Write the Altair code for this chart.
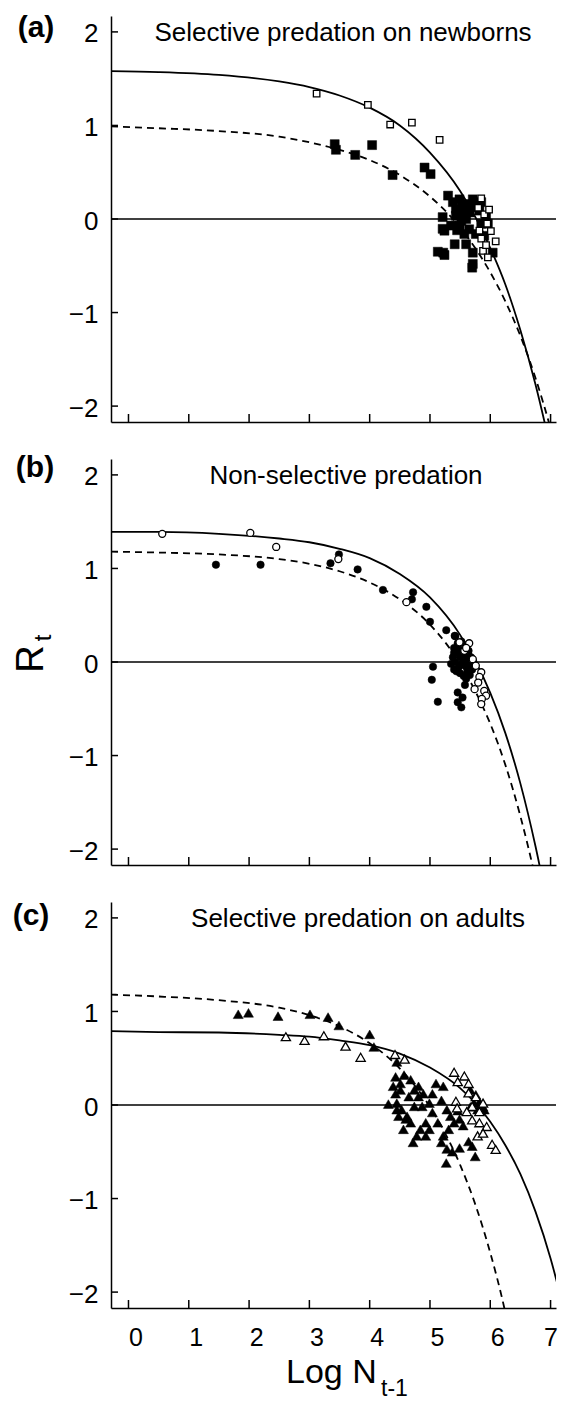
import altair as alt
import pandas as pd

# ---------------- data ----------------
PANEL_TITLES = ["Selective predation on newborns", "Non-selective predation", "Selective predation on adults"]
PANEL_LABELS = ["(a)", "(b)", "(c)"]
X_TICKS = [0, 1, 2, 3, 4, 5, 6, 7]
Y_TICKS = [-2, -1, 0, 1, 2]
Y_TITLE = ["R", "t"]
X_TITLE = ["Log N", "t-1"]

# fitted curves
A_SOLID_X = [-0.29, 0.5, 1.5, 2.5, 3.0, 3.5, 4.0, 4.5, 5.0, 5.5, 5.77, 6.0, 6.25, 6.5, 6.75, 7.0]
A_SOLID_Y = [1.58, 1.57, 1.54, 1.47, 1.41, 1.32, 1.19, 1.0, 0.71, 0.30, 0.0, -0.31, -0.70, -1.19, -1.77, -2.45]
A_DASH_X = [-0.29, 0.5, 1.5, 2.5, 3.0, 3.5, 4.0, 4.5, 5.0, 5.38, 5.75, 6.0, 6.25, 6.5, 6.75, 7.0, 7.2]
A_DASH_Y = [0.99, 0.97, 0.94, 0.88, 0.82, 0.74, 0.63, 0.47, 0.24, 0.0, -0.31, -0.57, -0.88, -1.25, -1.70, -2.24, -2.75]

B_SOLID_X = [-0.29, 0.5, 1.5, 2.5, 3.0, 3.5, 4.0, 4.5, 5.0, 5.5, 5.76, 6.0, 6.25, 6.5, 6.75, 6.95]
B_SOLID_Y = [1.39, 1.39, 1.37, 1.32, 1.28, 1.21, 1.11, 0.94, 0.69, 0.29, 0.0, -0.33, -0.76, -1.30, -1.97, -2.6]
B_DASH_X = [-0.29, 0.5, 1.5, 2.5, 3.0, 3.5, 4.0, 4.5, 5.0, 5.48, 5.75, 6.0, 6.25, 6.5, 6.75, 6.9]
B_DASH_Y = [1.18, 1.17, 1.15, 1.10, 1.05, 0.97, 0.85, 0.67, 0.40, 0.0, -0.31, -0.66, -1.10, -1.65, -2.32, -2.8]

C_SOLID_X = [-0.29, 0.5, 1.5, 2.5, 3.0, 3.5, 4.0, 4.5, 5.0, 5.5, 5.78, 6.0, 6.25, 6.5, 6.75, 7.0, 7.25]
C_SOLID_Y = [0.79, 0.78, 0.775, 0.75, 0.73, 0.69, 0.64, 0.55, 0.40, 0.18, 0.0, -0.18, -0.43, -0.74, -1.14, -1.64, -2.27]
C_DASH_X = [-0.29, 0.5, 1.5, 2.5, 3.0, 3.5, 4.0, 4.5, 4.98, 5.25, 5.5, 5.75, 6.0, 6.25, 6.4]
C_DASH_Y = [1.18, 1.16, 1.12, 1.04, 0.96, 0.84, 0.66, 0.39, 0.0, -0.30, -0.64, -1.06, -1.58, -2.22, -2.7]

# panel (a): open and filled squares
A_OPEN_X = [3.12, 3.97, 4.34, 4.70, 5.16, 5.85, 5.82, 6.01, 5.85, 6.09, 5.88, 5.96, 5.90, 5.95, 5.98, 5.80, 5.93]
A_OPEN_Y = [1.34, 1.22, 1.01, 1.03, 0.845, 0.22, -0.125, -0.13, -0.21, -0.24, -0.34, -0.41, 0.05, -0.05, 0.10, 0.12, -0.28]
A_FILL_X = [3.42, 3.44, 3.76, 4.04, 4.38, 4.91, 5.01, 5.30, 5.21, 5.24, 5.13, 5.24, 5.41, 5.60, 5.71, 5.71, 6.04,
            5.43, 5.54, 5.71, 5.60, 5.49, 5.82, 5.93, 5.96, 5.85, 5.65, 5.35, 5.43, 5.54, 5.76, 5.63, 5.85, 5.49,
            5.21, 5.57, 5.76, 5.90, 5.70, 5.38, 5.66, 5.52, 5.45, 5.22]
A_FILL_Y = [0.80, 0.74, 0.685, 0.79, 0.47, 0.55, 0.48, 0.25, 0.02, -0.125, -0.35, -0.385, -0.27, -0.27, -0.36, -0.48, -0.36,
            0.11, 0.14, 0.21, 0.0, -0.07, 0.09, 0.035, -0.05, -0.05, -0.11, -0.07, 0.035, 0.05, 0.125, 0.16, 0.18, 0.21,
            -0.105, -0.16, -0.16, -0.18, -0.52, 0.18, 0.07, -0.02, -0.12, -0.36]

# panel (b): open and filled circles
B_OPEN_X = [0.56, 2.02, 2.45, 3.48, 4.61, 5.65, 5.49, 5.85, 5.82, 5.74, 5.90, 5.93, 5.86, 5.85, 5.57, 5.71, 5.76, 5.60, 5.80]
B_OPEN_Y = [1.37, 1.38, 1.23, 1.10, 0.64, 0.20, 0.21, -0.11, -0.16, -0.29, -0.31, -0.36, -0.395, -0.45, 0.12, 0.03, -0.04, 0.15, -0.22]
B_FILL_X = [1.45, 2.19, 3.35, 3.49, 3.80, 4.22, 4.72, 4.70, 4.94, 5.00, 5.27, 5.42, 5.05, 5.03, 5.13, 5.46, 5.54, 5.46, 5.52,
            5.41, 5.58,
            5.40, 5.45, 5.50, 5.55, 5.60, 5.42, 5.48, 5.52, 5.58, 5.62, 5.66, 5.70, 5.38, 5.44, 5.50, 5.56, 5.62, 5.68,
            5.46, 5.52, 5.58, 5.35, 5.40, 5.64, 5.72, 5.54, 5.47, 5.60, 5.66, 5.40]
B_FILL_Y = [1.04, 1.04, 1.055, 1.15, 0.99, 0.77, 0.745, 0.67, 0.59, 0.43, 0.34, 0.275, -0.05, -0.19, -0.425, -0.325, -0.38, -0.43, -0.485,
            0.28, -0.245,
            0.15, 0.10, 0.05, 0.0, -0.05, 0.0, -0.05, 0.12, 0.08, 0.02, -0.02, -0.08, 0.05, -0.10, -0.12, -0.15, -0.10, 0.05,
            0.20, 0.22, 0.18, -0.02, -0.08, 0.12, 0.0, -0.02, 0.14, -0.18, -0.14, 0.10]

# panel (c): open and filled triangles
C_OPEN_X = [2.61, 2.92, 3.24, 3.60, 3.85, 4.42, 4.58, 5.40, 5.57, 5.46, 5.64, 5.43, 5.45, 5.70, 5.82, 5.94, 5.79, 5.88,
            6.03, 6.09, 5.64, 5.76, 5.88, 5.70, 5.61, 5.82]
C_OPEN_Y = [0.73, 0.69, 0.74, 0.63, 0.51, 0.54, 0.49, 0.35, 0.31, 0.25, 0.23, 0.04, -0.03, -0.16, -0.19, -0.23, -0.33, -0.30,
            -0.42, -0.475, 0.13, 0.09, 0.02, -0.015, -0.07, -0.07]
C_FILL_X = [1.82, 1.99, 2.48, 3.01, 3.31, 3.49, 4.00, 4.07, 4.45,
            5.67, 5.76, 5.82, 5.88, 5.79, 5.67, 5.73, 5.90, 5.64, 5.70, 5.75,
            4.31, 4.43, 4.57, 4.51, 4.43, 4.45, 4.53, 4.48, 4.60, 4.68, 4.72, 4.81, 4.81, 4.87, 4.93, 4.99, 4.93,
            4.65, 4.74, 5.10, 5.22, 5.04, 5.19, 5.28, 5.34, 5.40, 5.31, 5.22, 5.19, 5.28, 5.37, 5.27, 5.49, 5.55,
            5.49, 5.46, 5.04, 5.13, 4.78, 4.84, 4.56, 4.62, 4.45, 4.39, 4.51, 4.68, 4.74, 4.89, 4.99]
C_FILL_Y = [0.97, 0.985, 0.95, 0.97, 0.94, 0.85, 0.755, 0.62, 0.46,
            0.16, 0.11, 0.035, -0.02, -0.05, -0.02, 0.02, -0.05, -0.39, -0.44, -0.55,
            0.01, 0.30, 0.32, 0.16, 0.12, 0.02, -0.05, -0.12, -0.15, -0.19, -0.40, 0.20, 0.09, -0.015, -0.19, -0.26, -0.33,
            0.09, -0.015, 0.23, 0.20, 0.12, 0.05, -0.05, -0.12, -0.19, -0.26, -0.33, -0.40, -0.47, -0.50, -0.62, -0.46, -0.22,
            -0.15, -0.06, -0.08, -0.19, -0.33, -0.26, -0.26, -0.12, -0.05, 0.20, 0.23, 0.27, 0.16, 0.12, 0.02]

# ---------------- layout / style ----------------
W, H = 445, 406
X_DOMAIN = [-0.29, 7.09]
Y_DOMAIN = [-2.17, 2.17]
FONT = "Liberation Sans"
XS = alt.Scale(domain=X_DOMAIN, nice=False, zero=False)
YS = alt.Scale(domain=Y_DOMAIN, nice=False, zero=False)
X_LABEL_SHIFT = {"condition": {"test": "datum.value >= 7", "value": 0}, "value": 7}


def x_axis(show_labels):
    return alt.Axis(values=X_TICKS, labels=show_labels, ticks=False, grid=False, title=None,
                    domain=True, domainColor="black", domainWidth=1.5, labelFont=FONT, labelFontSize=25,
                    labelColor="black", labelPadding=17, labelOffset=X_LABEL_SHIFT, labelFlush=False,
                    labelOverlap=False)


Y_AXIS = alt.Axis(values=Y_TICKS, ticks=False, grid=False, title=None, domain=True,
                  domainColor="black", domainWidth=1.5, labelFont=FONT, labelFontSize=26, labelColor="black",
                  labelPadding=13, labelOffset=2, labelFlush=False, labelOverlap=False)


def panel(idx, solid, dash, filled, opened, shape, fsize, osize, title_x, label_pos, last=False, extra=None):
    XA = x_axis(last)
    ex = lambda: alt.X("x:Q", scale=XS, axis=XA)
    ey = lambda: alt.Y("y:Q", scale=YS, axis=Y_AXIS)
    df_solid = pd.DataFrame({"x": solid[0], "y": solid[1]})
    df_dash = pd.DataFrame({"x": dash[0], "y": dash[1]})
    df_fill = pd.DataFrame({"x": filled[0], "y": filled[1]})
    df_open = pd.DataFrame({"x": opened[0], "y": opened[1]})

    line_s = alt.Chart(df_solid).mark_line(color="black", strokeWidth=1.8, clip=True,
                                           interpolate="monotone").encode(x=ex(), y=ey())
    zero = alt.Chart(pd.DataFrame({"y": [0]})).mark_rule(color="black", strokeWidth=1.5).encode(y=ey())
    xt = alt.Chart(pd.DataFrame({"x": X_TICKS})).mark_rule(color="black", strokeWidth=1.5).encode(
        x=ex(), y=alt.value(H), y2=alt.value(H - 8))
    yt = alt.Chart(pd.DataFrame({"y": Y_TICKS})).mark_rule(color="black", strokeWidth=1.5).encode(
        y=ey(), x=alt.value(0), x2=alt.value(7))
    line_d = alt.Chart(df_dash).mark_line(color="black", strokeWidth=1.8, clip=True, interpolate="monotone",
                                          strokeDash=[7, 5]).encode(x=ex(), y=ey())
    pts_f = alt.Chart(df_fill).mark_point(shape=shape, filled=True, fill="black", stroke="black",
                                          strokeWidth=0.5, size=fsize, opacity=1).encode(x=ex(), y=ey())
    pts_o = alt.Chart(df_open).mark_point(shape=shape, filled=True, fill="white", stroke="black",
                                          strokeWidth=1.3, size=osize, opacity=1).encode(x=ex(), y=ey())
    ttl = alt.Chart(pd.DataFrame({"t": [PANEL_TITLES[idx]]})).mark_text(
        font=FONT, fontSize=26, color="black", align="center", baseline="alphabetic").encode(
        text="t:N", x=alt.value(title_x), y=alt.value(25))
    lab = alt.Chart(pd.DataFrame({"t": [PANEL_LABELS[idx]]})).mark_text(
        font=FONT, fontSize=30, fontWeight="bold", color="black", align="center", baseline="middle").encode(
        text="t:N", x=alt.value(label_pos[0]), y=alt.value(label_pos[1]))
    layers = [line_s, zero, xt, yt, line_d, pts_f, pts_o, ttl, lab]
    if extra:
        layers += extra
    return alt.layer(*layers).properties(width=W, height=H)


# axis titles as text (with subscripts)
r_main = alt.Chart(pd.DataFrame({"t": [Y_TITLE[0]]})).mark_text(
    font=FONT, fontSize=38, color="black", angle=270, align="center", baseline="alphabetic").encode(
    text="t:N", x=alt.value(-68), y=alt.value(200))
r_sub = alt.Chart(pd.DataFrame({"t": [Y_TITLE[1]]})).mark_text(
    font=FONT, fontSize=24, color="black", angle=270, align="center", baseline="alphabetic").encode(
    text="t:N", x=alt.value(-60), y=alt.value(179))
x_main = alt.Chart(pd.DataFrame({"t": [X_TITLE[0]]})).mark_text(
    font=FONT, fontSize=34, color="black", align="left", baseline="alphabetic").encode(
    text="t:N", x=alt.value(175), y=alt.value(481))
x_sub = alt.Chart(pd.DataFrame({"t": [X_TITLE[1]]})).mark_text(
    font=FONT, fontSize=23, color="black", align="left", baseline="alphabetic").encode(
    text="t:N", x=alt.value(270), y=alt.value(494))

pa = panel(0, (A_SOLID_X, A_SOLID_Y), (A_DASH_X, A_DASH_Y), (A_FILL_X, A_FILL_Y), (A_OPEN_X, A_OPEN_Y),
           "square", 81, 42, 232, (-75, 12))
pb = panel(1, (B_SOLID_X, B_SOLID_Y), (B_DASH_X, B_DASH_Y), (B_FILL_X, B_FILL_Y), (B_OPEN_X, B_OPEN_Y),
           "circle", 56, 50, 235, (-76, 9), extra=[r_main, r_sub])
pc = panel(2, (C_SOLID_X, C_SOLID_Y), (C_DASH_X, C_DASH_Y), (C_FILL_X, C_FILL_Y), (C_OPEN_X, C_OPEN_Y),
           "triangle-up", 100, 85, 247, (-80, 14), last=True, extra=[x_main, x_sub])

chart = alt.vconcat(pa, pb, pc, spacing=37, bounds="flush").properties(
    padding={"left": 4, "top": 5, "right": 0, "bottom": 0}
).configure(background="white").configure_view(stroke=None)

chart.save("out.html", embed_options={"renderer": "svg", "actions": False})
